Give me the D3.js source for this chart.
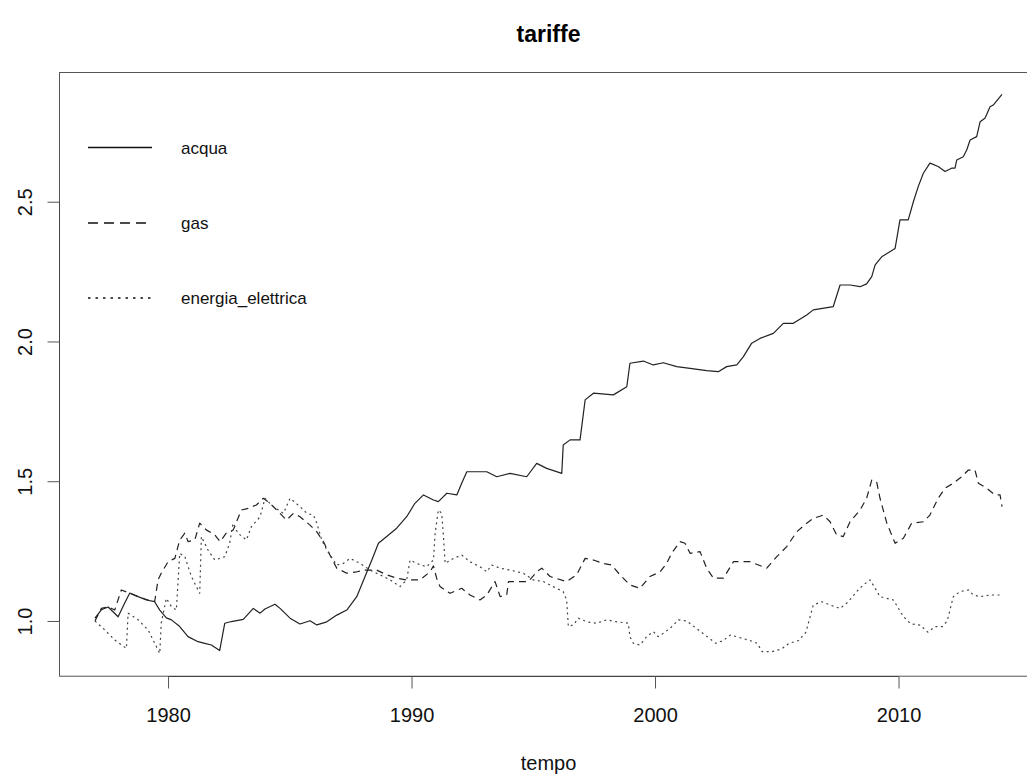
<!DOCTYPE html>
<html>
<head>
<meta charset="utf-8">
<script src="https://cdn.jsdelivr.net/npm/d3@7"></script>
<style>
  html, body { margin: 0; padding: 0; background: #fff; }
  svg { display: block; font-family: "Liberation Sans", Arial, Helvetica, sans-serif; }
</style>
</head>
<body>
<svg id="chart" width="1027" height="776"></svg>
<script>
// Tariff indices over time (base = 1 in 1977)
const acquaTime = [1977.00,1977.26,1977.54,1977.95,1978.22,1978.43,1978.77,1979.11,1979.45,1979.66,1979.93,1980.14,1980.48,1980.82,1981.23,1981.51,1981.78,1982.12,1982.33,1982.60,1983.09,1983.50,1983.78,1983.98,1984.39,1984.60,1985.01,1985.42,1985.83,1986.11,1986.52,1986.93,1987.34,1987.75,1988.09,1988.37,1988.64,1988.98,1989.39,1989.80,1990.14,1990.49,1990.90,1991.10,1991.45,1991.86,1992.06,1992.27,1993.09,1993.50,1994.05,1994.73,1995.14,1995.55,1996.17,1996.23,1996.51,1996.92,1997.13,1997.47,1998.29,1998.84,1998.97,1999.52,1999.93,2000.34,2000.89,2001.44,2002.12,2002.60,2002.94,2003.36,2003.63,2003.97,2004.31,2004.86,2005.27,2005.68,2006.23,2006.50,2007.32,2007.60,2008.01,2008.42,2008.69,2008.90,2009.04,2009.31,2009.86,2010.06,2010.40,2010.61,2010.81,2011.02,2011.29,2011.63,2011.91,2012.18,2012.32,2012.39,2012.66,2012.80,2012.94,2013.21,2013.35,2013.55,2013.76,2013.89,2014.25];
const acquaValue = [1.01,1.04,1.05,1.015,1.064,1.10,1.087,1.075,1.069,1.039,1.011,1.004,0.980,0.944,0.926,0.920,0.914,0.894,0.992,0.998,1.006,1.045,1.028,1.043,1.060,1.045,1.010,0.989,1.001,0.986,0.997,1.021,1.039,1.087,1.159,1.218,1.278,1.302,1.332,1.373,1.421,1.451,1.433,1.427,1.457,1.451,1.493,1.534,1.534,1.516,1.528,1.516,1.564,1.546,1.528,1.630,1.648,1.648,1.791,1.815,1.809,1.838,1.922,1.930,1.916,1.924,1.910,1.904,1.896,1.892,1.910,1.916,1.946,1.994,2.011,2.029,2.065,2.065,2.095,2.113,2.125,2.202,2.202,2.196,2.206,2.232,2.274,2.303,2.333,2.435,2.435,2.500,2.554,2.602,2.638,2.626,2.608,2.620,2.620,2.649,2.661,2.685,2.721,2.733,2.786,2.799,2.840,2.846,2.884];

const gasTime = [1977.00,1977.26,1977.54,1977.81,1978.08,1978.43,1978.77,1979.18,1979.45,1979.59,1979.72,1980.00,1980.28,1980.48,1980.69,1980.82,1981.10,1981.30,1981.57,1981.92,1982.14,1982.39,1982.68,1983.01,1983.29,1983.63,1983.91,1984.19,1984.53,1984.87,1985.15,1985.42,1985.83,1986.11,1986.38,1986.65,1986.93,1987.34,1987.75,1988.09,1988.57,1988.98,1989.39,1989.80,1990.35,1990.76,1990.90,1991.03,1991.17,1991.58,1992.06,1992.40,1992.81,1993.09,1993.43,1993.64,1993.91,1993.98,1994.32,1994.80,1995.14,1995.35,1995.69,1996.37,1996.78,1997.13,1997.47,1997.88,1998.22,1998.56,1998.97,1999.38,1999.79,2000.21,2000.48,2000.68,2001.03,2001.23,2001.44,2001.85,2002.12,2002.40,2002.81,2003.22,2003.90,2004.59,2005.00,2005.41,2005.82,2006.23,2006.50,2006.91,2007.19,2007.46,2007.73,2008.01,2008.42,2008.69,2008.90,2009.10,2009.24,2009.52,2009.86,2010.20,2010.54,2011.02,2011.29,2011.63,2011.91,2012.25,2012.59,2012.87,2013.14,2013.28,2013.62,2013.96,2014.17,2014.25];
const gasValue = [1.00,1.045,1.051,1.039,1.111,1.099,1.087,1.075,1.069,1.147,1.171,1.212,1.224,1.290,1.314,1.284,1.290,1.350,1.326,1.308,1.284,1.314,1.326,1.397,1.403,1.415,1.439,1.421,1.391,1.361,1.385,1.373,1.343,1.319,1.284,1.236,1.189,1.171,1.176,1.182,1.182,1.165,1.153,1.147,1.147,1.176,1.197,1.153,1.123,1.099,1.117,1.093,1.075,1.093,1.141,1.087,1.093,1.141,1.141,1.141,1.176,1.189,1.159,1.141,1.165,1.224,1.218,1.206,1.200,1.165,1.129,1.117,1.159,1.176,1.206,1.242,1.284,1.278,1.242,1.248,1.189,1.153,1.153,1.212,1.212,1.189,1.230,1.266,1.319,1.350,1.367,1.379,1.355,1.308,1.302,1.355,1.397,1.439,1.504,1.498,1.439,1.350,1.278,1.296,1.350,1.355,1.379,1.439,1.475,1.493,1.516,1.540,1.540,1.493,1.475,1.451,1.451,1.409];

const elettricaTime = [1977.00,1977.40,1977.81,1978.29,1978.36,1978.77,1979.18,1979.66,1979.72,1979.93,1980.14,1980.34,1980.48,1980.69,1980.96,1981.30,1981.37,1981.64,1981.92,1982.33,1982.53,1982.67,1982.87,1983.22,1983.42,1983.78,1983.98,1984.32,1984.74,1985.01,1985.42,1985.70,1985.97,1986.11,1986.31,1986.52,1986.93,1987.20,1987.47,1987.89,1988.30,1988.71,1989.12,1989.53,1989.80,1989.94,1990.21,1990.62,1990.90,1990.97,1991.10,1991.24,1991.31,1991.38,1991.72,1992.06,1992.40,1992.81,1993.09,1993.29,1993.64,1994.05,1994.59,1995.00,1995.41,1995.82,1996.23,1996.37,1996.44,1996.65,1996.85,1997.20,1997.61,1998.02,1998.43,1998.90,1998.97,1999.11,1999.38,1999.66,1999.93,2000.13,2000.34,2000.62,2000.96,2001.30,2001.60,2001.90,2002.20,2002.50,2002.80,2003.10,2003.50,2003.90,2004.20,2004.40,2004.80,2005.20,2005.50,2005.90,2006.20,2006.37,2006.50,2006.85,2007.19,2007.60,2007.94,2008.28,2008.56,2008.83,2009.04,2009.24,2009.79,2010.20,2010.50,2010.90,2011.20,2011.50,2011.80,2012.00,2012.25,2012.52,2012.87,2013.07,2013.35,2013.76,2014.25];
const elettricaValue = [1.00,0.968,0.932,0.902,1.028,1.004,0.968,0.884,0.992,1.081,1.051,1.039,1.242,1.230,1.159,1.099,1.302,1.254,1.218,1.230,1.278,1.350,1.314,1.290,1.337,1.373,1.439,1.409,1.385,1.439,1.409,1.385,1.379,1.350,1.290,1.254,1.200,1.206,1.224,1.206,1.182,1.165,1.147,1.123,1.147,1.218,1.206,1.194,1.218,1.314,1.397,1.385,1.302,1.206,1.224,1.236,1.212,1.194,1.176,1.200,1.189,1.182,1.171,1.147,1.141,1.123,1.105,1.075,0.980,0.986,1.010,0.997,0.992,1.004,0.997,0.992,0.944,0.920,0.914,0.944,0.962,0.944,0.956,0.974,1.004,1.00,0.98,0.96,0.94,0.92,0.93,0.95,0.94,0.93,0.92,0.89,0.89,0.90,0.92,0.93,0.96,1.016,1.057,1.069,1.057,1.045,1.069,1.105,1.129,1.147,1.117,1.087,1.075,1.016,0.99,0.985,0.96,0.98,0.98,1.00,1.087,1.105,1.111,1.093,1.087,1.093,1.093];

const seriesNames = ["acqua", "gas", "energia_elettrica"];
const xTicks = [1980, 1990, 2000, 2010];
const yTicks = [1.0, 1.5, 2.0, 2.5];
const yTickLabels = ["1.0", "1.5", "2.0", "2.5"];
const chartTitle = "tariffe";
const xTitle = "tempo";

const series = [
  { name: seriesNames[0], t: acquaTime, v: acquaValue, dash: null, width: 1.2, color: "#222", legendDash: null },
  { name: seriesNames[1], t: gasTime, v: gasValue, dash: "7,5", width: 1.2, color: "#222", legendDash: "10,6" },
  { name: seriesNames[2], t: elettricaTime, v: elettricaValue, dash: "2,3.5", width: 1.2, color: "#444", legendDash: "2.5,5" }
];

const svg = d3.select("#chart");
svg.append("rect").attr("width", 1027).attr("height", 776).attr("fill", "#fff");

// Data region with 4% padding on each side, as in base graphics
const xData = [1977, 2014.25];
const yData = [0.884, 2.884];
const plotLeft = 95, plotRight = 1002, plotTop = 94.4, plotBottom = 653.4;

const x = d3.scaleLinear().domain(xData).range([plotLeft, plotRight]);
const y = d3.scaleLinear().domain(yData).range([plotBottom, plotTop]);

const padX = 0.04 * (plotRight - plotLeft);
const padY = 0.04 * (plotBottom - plotTop);
const box = { left: plotLeft - padX, right: plotRight + padX, top: plotTop - padY, bottom: plotBottom + padY };

// Title
svg.append("text")
  .attr("x", (box.left + box.right) / 2).attr("y", 42)
  .attr("text-anchor", "middle")
  .attr("font-size", 23).attr("font-weight", "bold")
  .attr("fill", "#000")
  .text(chartTitle);

// Plot frame (its right side lies past the page edge)
svg.append("rect")
  .attr("x", Math.round(box.left) + 0.5).attr("y", Math.round(box.top) + 0.5)
  .attr("width", box.right - box.left + 10).attr("height", box.bottom - box.top)
  .attr("fill", "none").attr("stroke", "#555").attr("stroke-width", 1);

// Lines
const line = d3.line().x(d => x(d[0])).y(d => y(d[1]));
const g = svg.append("g");
series.forEach(s => {
  const pts = s.t.map((t, i) => [t, s.v[i]]);
  g.append("path")
    .datum(pts)
    .attr("d", line)
    .attr("fill", "none")
    .attr("stroke", s.color)
    .attr("stroke-width", s.width)
    .attr("stroke-linejoin", "round")
    .attr("stroke-dasharray", s.dash);
});

// X axis
const xAxisY = Math.round(box.bottom) + 0.5;
const xAxis = d3.axisBottom(x).tickValues(xTicks).tickSize(12).tickPadding(19).tickFormat(d3.format("d"));
const gx = svg.append("g").attr("transform", `translate(0,${xAxisY})`).call(xAxis);
gx.select(".domain").attr("d", `M${x(xTicks[0])},0H${x(xTicks[xTicks.length - 1])}`).attr("stroke", "#444");
gx.selectAll(".tick line").attr("stroke", "#555");
gx.selectAll(".tick text").attr("font-size", 20).attr("fill", "#111")
  .attr("font-family", "Liberation Sans, Arial, sans-serif");

// Y axis
const yAxisX = Math.round(box.left) + 0.5;
const yAxis = d3.axisLeft(y).tickValues(yTicks).tickSize(12).tickFormat((d, i) => yTickLabels[i]);
const gy = svg.append("g").attr("transform", `translate(${yAxisX},0)`).call(yAxis);
gy.select(".domain").attr("d", `M0,${y(yTicks[0])}V${y(yTicks[yTicks.length - 1])}`).attr("stroke", "#444");
gy.selectAll(".tick line").attr("stroke", "#555");
gy.selectAll(".tick text")
  .attr("x", null).attr("dy", null)
  .attr("text-anchor", "middle")
  .attr("transform", `translate(${32 - yAxisX},0) rotate(-90)`)
  .attr("font-size", 20).attr("fill", "#111")
  .attr("font-family", "Liberation Sans, Arial, sans-serif");

// X axis title
svg.append("text")
  .attr("x", (box.left + box.right) / 2).attr("y", 770)
  .attr("text-anchor", "middle")
  .attr("font-size", 20).attr("fill", "#111")
  .text(xTitle);

// Legend
const legendY = [147.5, 223, 298];
const legend = svg.append("g");
series.forEach((s, i) => {
  legend.append("line")
    .attr("x1", 88).attr("x2", 152)
    .attr("y1", legendY[i]).attr("y2", legendY[i])
    .attr("stroke", "#111").attr("stroke-width", 1.6)
    .attr("stroke-dasharray", s.legendDash);
  legend.append("text")
    .attr("x", 181).attr("y", legendY[i] + 6)
    .attr("font-size", 17).attr("fill", "#111")
    .text(s.name);
});
</script>
</body>
</html>
